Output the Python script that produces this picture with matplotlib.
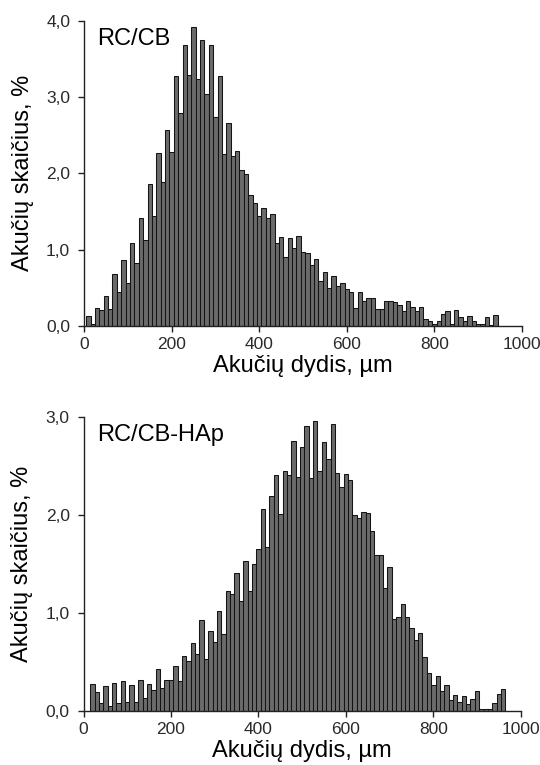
import matplotlib
matplotlib.use("Agg")
import matplotlib.pyplot as plt
from matplotlib.ticker import FuncFormatter
import numpy as np

plt.rcParams["font.family"] = ["Liberation Sans", "DejaVu Sans"]

# ── Data: particle size histograms (bin centre, µm -> share, %) ──────
top_sizes = np.arange(10, 950, 10)
top_counts = [
    0.13, 0.03, 0.23, 0.21, 0.39, 0.22, 0.68, 0.45, 0.86, 0.56,
    1.08, 0.83, 1.42, 1.13, 1.86, 1.44, 2.27, 1.89, 2.57, 2.28,
    3.28, 2.79, 3.68, 3.29, 3.92, 3.24, 3.74, 3.04, 3.68, 2.74,
    3.28, 2.25, 2.66, 2.23, 2.29, 2.04, 1.99, 1.72, 1.61, 1.44,
    1.55, 1.42, 1.47, 1.09, 1.17, 0.90, 1.15, 1.02, 1.18, 0.97,
    0.96, 0.80, 0.88, 0.59, 0.71, 0.50, 0.66, 0.52, 0.56, 0.48,
    0.45, 0.24, 0.45, 0.33, 0.37, 0.36, 0.22, 0.22, 0.32, 0.32,
    0.31, 0.28, 0.20, 0.32, 0.25, 0.20, 0.25, 0.09, 0.06, 0.03,
    0.06, 0.16, 0.19, 0.03, 0.21, 0.12, 0.06, 0.13, 0.06, 0.03,
    0.03, 0.12, 0.01, 0.14,
]

bot_sizes = np.arange(20, 970, 10)
bot_counts = [
    0.28, 0.19, 0.085, 0.25, 0.05, 0.29, 0.08, 0.31, 0.095, 0.27,
    0.09, 0.32, 0.13, 0.28, 0.21, 0.43, 0.23, 0.32, 0.32, 0.46,
    0.31, 0.56, 0.51, 0.69, 0.58, 0.93, 0.53, 0.82, 0.70, 1.02,
    0.78, 1.22, 1.19, 1.41, 1.12, 1.53, 1.22, 1.50, 1.65, 2.06,
    1.67, 2.19, 2.41, 2.01, 2.45, 2.41, 2.75, 2.39, 2.69, 2.91,
    2.37, 2.96, 2.45, 2.74, 2.57, 2.93, 2.43, 2.28, 2.42, 2.35,
    2.00, 1.97, 2.03, 2.02, 1.83, 1.59, 1.59, 1.25, 1.47, 0.94,
    0.96, 1.09, 0.96, 0.85, 0.72, 0.80, 0.55, 0.39, 0.27, 0.36,
    0.20, 0.27, 0.11, 0.16, 0.095, 0.15, 0.07, 0.12, 0.20, 0.02,
    0.02, 0.02, 0.085, 0.17, 0.22,
]

panels = [
    ("RC/CB", top_sizes, top_counts, 4.0, [0.1556, 0.574, 0.811, 0.399]),
    ("RC/CB-HAp", bot_sizes, bot_counts, 3.0, [0.1548, 0.0706, 0.8096, 0.3847]),
]

BAR_FACE = "#6a6a6a"
BAR_EDGE = "#141414"
TICK_COLOR = "#2a2a2a"

fig = plt.figure(figsize=(5.4, 7.65), dpi=100, facecolor="white")

comma = FuncFormatter(lambda v, pos: f"{v:.1f}".replace(".", ","))

for title, sizes, counts, ymax, rect in panels:
    ax = fig.add_axes(rect)
    ax.bar(sizes, counts, width=10, color=BAR_FACE, edgecolor=BAR_EDGE,
           linewidth=0.75, align="center")

    ax.set_xlim(0, 1000)
    ax.set_ylim(0, ymax)
    ax.set_xticks(np.arange(0, 1001, 200))
    ax.set_yticks(np.arange(0, ymax + 0.01, 1.0))
    ax.yaxis.set_major_formatter(comma)

    ax.spines["top"].set_visible(False)
    ax.spines["right"].set_visible(False)
    for s in ("left", "bottom"):
        ax.spines[s].set_linewidth(1.0)
        ax.spines[s].set_color("#222222")
    ax.tick_params(axis="both", direction="out", length=4, width=1.0,
                   labelsize=12.5, colors="#222222", labelcolor=TICK_COLOR)
    ax.tick_params(axis="y", pad=6)
    ax.tick_params(axis="x", pad=4)

    ax.set_xlabel("Akučių dydis, µm", fontsize=17, labelpad=2)
    ax.set_ylabel("Akučių skaičius, %", fontsize=17, labelpad=9)
    ax.text(0.03, 0.975, title, transform=ax.transAxes, fontsize=17,
            ha="left", va="top")

fig.savefig("out.png", dpi=100, facecolor="white")
